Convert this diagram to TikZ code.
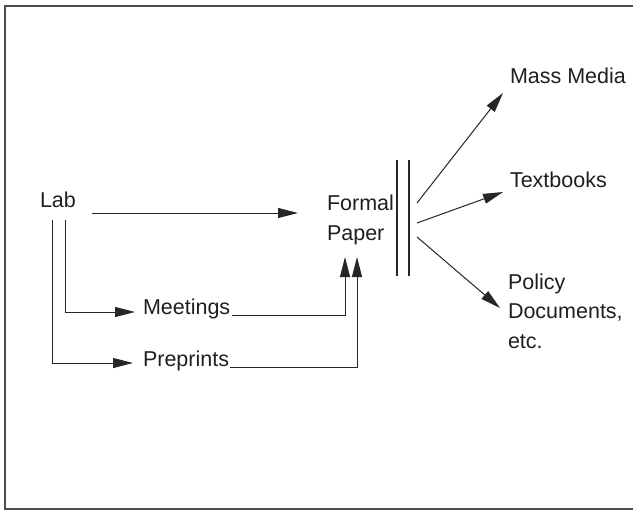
\documentclass[tikz,border=0pt]{standalone}
\usepackage{fontspec}
\setmainfont{Liberation Sans}
\usetikzlibrary{arrows.meta}
\begin{document}
\begin{tikzpicture}[x=1pt,y=-1pt,
  lbl/.style={anchor=base west,inner sep=0pt,outer sep=0pt,text=black!88,
    font=\fontsize{21.5}{29.5}\selectfont,align=left},
  conn/.style={line width=1pt,draw=black!85},
  arr/.style={conn,-{Triangle[length=20pt,width=10pt]}},
  framel/.style={line width=1.4pt,draw=black!70}]
\useasboundingbox (0,0) rectangle (636,511);
% frame (three visible sides)
\coordinate (ftr) at (633,6);
\coordinate (ftl) at (5,6);
\coordinate (fbl) at (5,509);
\coordinate (fbr) at (633,509);
\draw[framel] (ftr) -- (ftl) -- (fbl) -- (fbr);
% text nodes (base = baseline of last line)
\node[lbl] (lab) at (40,207) {Lab};
\node[lbl] (meet) at (143,314) {Meetings};
\node[lbl] (prep) at (143,366) {Preprints};
\node[lbl] (formal) at (327,240) {Formal\\Paper};
\node[lbl] (mass) at (510,83) {Mass Media};
\node[lbl] (text) at (510,187) {Textbooks};
\node[lbl] (policy) at (508,348) {Policy\\Documents,\\etc.};
% Lab -> Formal Paper
\coordinate (labout) at (92,213);
\coordinate (fpin) at (298,213);
\draw[arr] (labout) -- (fpin);
% Lab -> Meetings / Preprints
\coordinate (labm) at (65,220);
\coordinate (labp) at (52,220);
\coordinate (mtip) at (135,312);
\coordinate (ptip) at (133,363);
\draw[arr] (labm) |- (mtip);
\draw[arr] (labp) |- (ptip);
% Meetings / Preprints -> Formal Paper
\coordinate (mout) at (232,315);
\coordinate (mup) at (345,257);
\coordinate (pout) at (230,367);
\coordinate (pup) at (357,257);
\draw[arr] (mout) -| (mup);
\draw[arr] (pout) -| (pup);
% double bar
\coordinate (b1t) at (397,160);
\coordinate (b1b) at (397,276);
\coordinate (b2t) at (409,160);
\coordinate (b2b) at (409,276);
\draw[line width=1.5pt,draw=black!85] (b1t) -- (b1b);
\draw[line width=1.5pt,draw=black!85] (b2t) -- (b2b);
% fan-out
\coordinate (f1) at (417,203);
\coordinate (f2) at (417,223);
\coordinate (f3) at (417,237);
\coordinate (t1) at (503,93);
\coordinate (t2) at (503,192);
\coordinate (t3) at (500,308);
\draw[arr] (f1) -- (t1);
\draw[arr] (f2) -- (t2);
\draw[arr] (f3) -- (t3);
\end{tikzpicture}
\end{document}
